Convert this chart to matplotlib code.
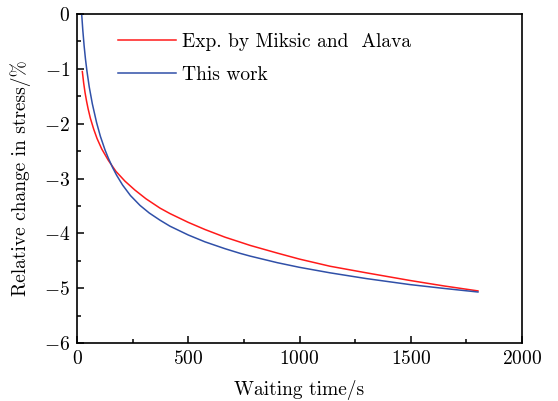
import matplotlib.pyplot as plt
import numpy as np

plt.rcParams['font.family'] = 'serif'
plt.rcParams['font.serif'] = ['cmr10']
plt.rcParams['mathtext.fontset'] = 'cm'
plt.rcParams['axes.formatter.use_mathtext'] = True

# Experimental data (Miksic and Alava)
t_exp = [24, 30, 36, 43, 50, 60, 75, 90, 111, 141, 175, 216, 260, 310, 373, 418,
         500, 575, 665, 733, 778, 900, 1000, 1137, 1300, 1497, 1650, 1802]
s_exp = [-1.05, -1.26, -1.43, -1.59, -1.73, -1.9, -2.1, -2.27, -2.46, -2.67, -2.87,
         -3.05, -3.21, -3.37, -3.54, -3.64, -3.8, -3.93, -4.07, -4.16, -4.22, -4.36,
         -4.47, -4.6, -4.72, -4.86, -4.96, -5.05]

# This work
t_sim = [21, 26, 32, 38, 45, 55, 69, 88, 105, 126, 141, 160, 178, 205, 240, 283,
         325, 373, 418, 500, 575, 665, 733, 778, 900, 1000, 1137, 1300, 1497, 1650,
         1802]
s_sim = [0.0, -0.29, -0.58, -0.82, -1.05, -1.33, -1.64, -1.98, -2.23, -2.48, -2.63,
         -2.8, -2.94, -3.12, -3.31, -3.49, -3.63, -3.76, -3.87, -4.03, -4.155, -4.28,
         -4.365, -4.415, -4.535, -4.62, -4.72, -4.825, -4.935, -5.005, -5.07]

fig = plt.figure(figsize=(5.58, 4.01), dpi=100)
ax = fig.add_axes([77 / 558, 1 - 343 / 401, 445 / 558, 329 / 401])

ax.plot(t_exp, s_exp, color='#ff1a1a', lw=1.1, label='Exp. by Miksic and  Alava')
ax.plot(t_sim, s_sim, color='#3050a8', lw=1.1, label='This work')

ax.set_xlim(0, 2000)
ax.set_ylim(-6, 0)
ax.set_xticks([0, 500, 1000, 1500, 2000])
ax.set_yticks(np.arange(-6, 1, 1))
ax.set_xticks(np.arange(250, 2000, 500), minor=True)
ax.set_yticks(np.arange(-5.5, 0, 1), minor=True)
ax.tick_params(direction='in', length=5, width=1.1, labelsize=14, pad=5)
ax.tick_params(which='minor', direction='in', length=3, width=1.1)
for s in ax.spines.values():
    s.set_linewidth(1.2)

ax.set_xlabel('Waiting time/s', fontsize=14, labelpad=9)
ax.set_ylabel('Relative change in stress/%', fontsize=14, labelpad=9)

ax.legend(loc='upper left', bbox_to_anchor=(0.075, 0.965), frameon=False,
          fontsize=14, handlelength=3.0, handletextpad=0.3, labelspacing=0.75,
          borderaxespad=0)

fig.savefig('out.png', dpi=100)
